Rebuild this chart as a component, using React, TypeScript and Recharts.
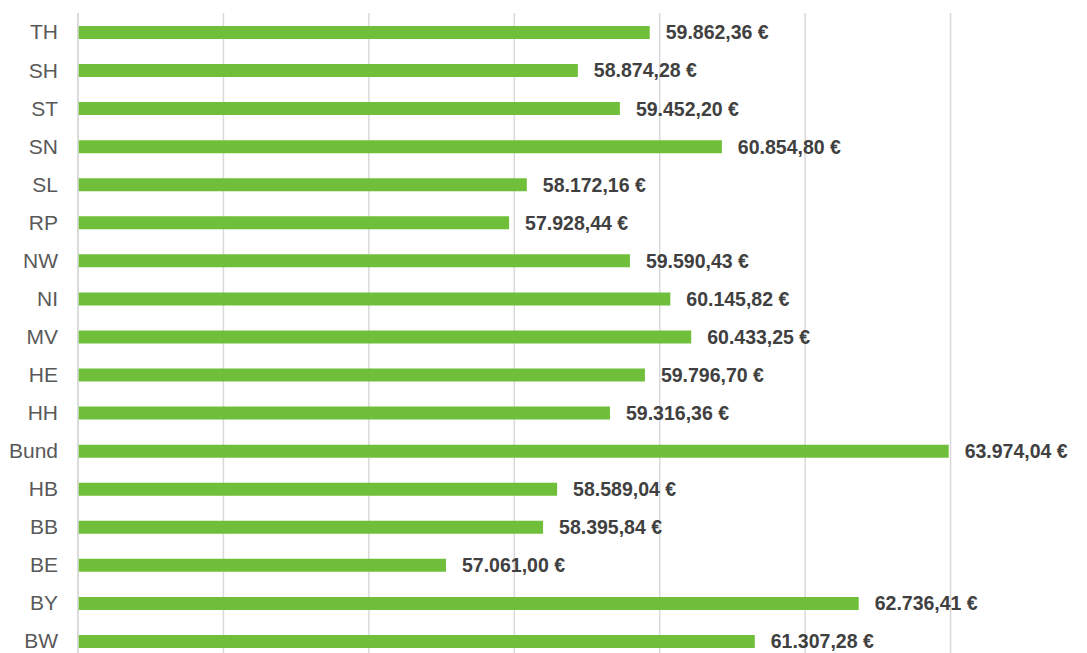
import { BarChart, Bar, XAxis, YAxis, CartesianGrid, LabelList } from 'recharts';

// top to bottom as drawn
const regions = ['TH', 'SH', 'ST', 'SN', 'SL', 'RP', 'NW', 'NI', 'MV', 'HE', 'HH', 'Bund', 'HB', 'BB', 'BE', 'BY', 'BW'];
const salaries = [
  59862.36, 58874.28, 59452.2, 60854.8, 58172.16, 57928.44, 59590.43, 60145.82, 60433.25,
  59796.7, 59316.36, 63974.04, 58589.04, 58395.84, 57061.0, 62736.41, 61307.28,
];
const xTicks = [52000, 54000, 56000, 58000, 60000, 62000, 64000, 66000];

const data = regions.map((region, i) => ({ region, value: salaries[i] }));

function formatEuro(v: number): string {
  const [int, dec] = v.toFixed(2).split('.');
  const withDots = int.replace(/\B(?=(\d{3})+(?!\d))/g, '.');
  return `${withDots},${dec} €`;
}

export default function App() {
  return (
    <div
      style={{
        position: 'absolute',
        left: 0,
        top: 0,
        width: 1087,
        height: 653,
        overflow: 'hidden',
        background: '#fff',
        fontFamily: '"Liberation Sans", Arial, sans-serif',
      }}
    >
      <BarChart
        width={1100}
        height={662}
        data={data}
        layout="vertical"
        margin={{ top: 13, right: 4, bottom: 2, left: 0 }}
        barSize={13}
      >
        <CartesianGrid horizontal={false} stroke="#d9d9d9" strokeWidth={1.5} />
        <XAxis
          type="number"
          domain={[52000, 66000]}
          ticks={xTicks}
          hide
        />
        <YAxis
          type="category"
          dataKey="region"
          width={78}
          axisLine={{ stroke: '#d9d9d9', strokeWidth: 1.5 }}
          tickLine={false}
          tickSize={0}
          tickMargin={20}
          tick={{ fill: '#595959', fontSize: 21, fontFamily: '"Liberation Sans", Arial, sans-serif' }}
          interval={0}
        />
        <Bar dataKey="value" fill="#6fbf3a" isAnimationActive={false}>
          <LabelList
            dataKey="value"
            position="right"
            offset={16}
            formatter={(v: any) => formatEuro(Number(v))}
            style={{ fill: '#404040', fontSize: 19.5, fontWeight: 'bold', fontFamily: '"Liberation Sans", Arial, sans-serif' }}
          />
        </Bar>
      </BarChart>
    </div>
  );
}
